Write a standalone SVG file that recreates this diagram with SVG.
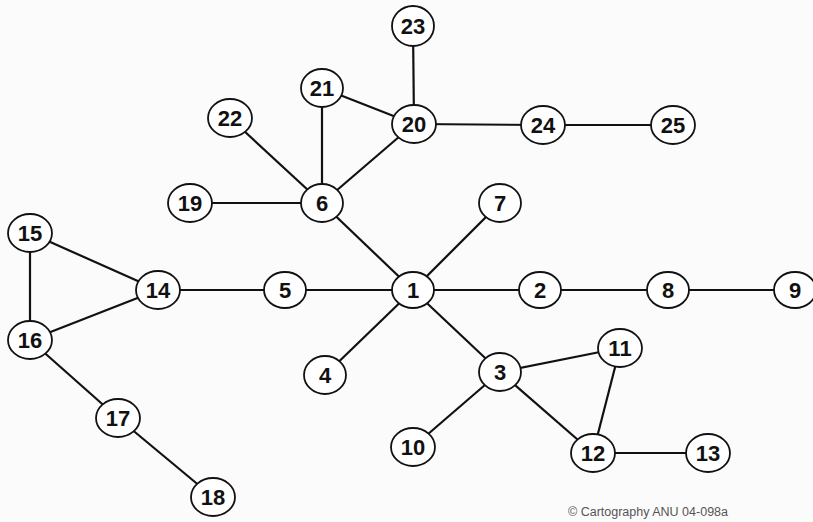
<svg xmlns="http://www.w3.org/2000/svg" width="813" height="522" viewBox="0 0 813 522">
<style>
.e{stroke:#111;stroke-width:2.2;fill:none}
.n ellipse{fill:#fff;stroke:#111;stroke-width:1.8}
.n text{font-family:"Liberation Sans",Arial,sans-serif;font-weight:bold;font-size:22px;fill:#111;text-anchor:middle}
.c{font-family:"Liberation Sans",Arial,sans-serif;font-size:12.5px;fill:#555}
</style>
<rect width="813" height="522" fill="#fbfbfb"/>
<g id="connectors">
<line class="e" x1="413" y1="26" x2="414" y2="124"/>
<line class="e" x1="322" y1="88" x2="414" y2="124"/>
<line class="e" x1="322" y1="88" x2="322" y2="203"/>
<line class="e" x1="414" y1="124" x2="322" y2="203"/>
<line class="e" x1="414" y1="124" x2="543" y2="125"/>
<line class="e" x1="543" y1="125" x2="673" y2="125"/>
<line class="e" x1="230" y1="118" x2="322" y2="203"/>
<line class="e" x1="190" y1="203" x2="322" y2="203"/>
<line class="e" x1="322" y1="203" x2="413" y2="290"/>
<line class="e" x1="500" y1="203" x2="413" y2="290"/>
<line class="e" x1="158" y1="290" x2="413" y2="290"/>
<line class="e" x1="413" y1="290" x2="795" y2="290"/>
<line class="e" x1="413" y1="290" x2="325" y2="375"/>
<line class="e" x1="413" y1="290" x2="500" y2="372"/>
<line class="e" x1="30" y1="233" x2="158" y2="290"/>
<line class="e" x1="30" y1="233" x2="30" y2="340"/>
<line class="e" x1="30" y1="340" x2="158" y2="290"/>
<line class="e" x1="30" y1="340" x2="118" y2="418"/>
<line class="e" x1="118" y1="418" x2="213" y2="497"/>
<line class="e" x1="500" y1="372" x2="620" y2="348"/>
<line class="e" x1="500" y1="372" x2="413" y2="447"/>
<line class="e" x1="500" y1="372" x2="593" y2="453"/>
<line class="e" x1="620" y1="348" x2="593" y2="453"/>
<line class="e" x1="593" y1="453" x2="708" y2="453"/>
</g>
<g id="n23" class="n"><ellipse cx="413" cy="26" rx="21" ry="20"/><text x="413" y="34">23</text></g>
<g id="n21" class="n"><ellipse cx="322" cy="88" rx="21" ry="19"/><text x="322" y="96">21</text></g>
<g id="n20" class="n"><ellipse cx="414" cy="124" rx="22" ry="19"/><text x="414" y="132">20</text></g>
<g id="n24" class="n"><ellipse cx="543" cy="125" rx="22" ry="19"/><text x="543" y="133">24</text></g>
<g id="n25" class="n"><ellipse cx="673" cy="125" rx="22" ry="19"/><text x="673" y="133">25</text></g>
<g id="n22" class="n"><ellipse cx="230" cy="118" rx="22" ry="19"/><text x="230" y="126">22</text></g>
<g id="n19" class="n"><ellipse cx="190" cy="203" rx="22" ry="19"/><text x="190" y="211">19</text></g>
<g id="n6" class="n"><ellipse cx="322" cy="203" rx="21" ry="19"/><text x="322" y="211">6</text></g>
<g id="n7" class="n"><ellipse cx="500" cy="203" rx="21" ry="19"/><text x="500" y="211">7</text></g>
<g id="n15" class="n"><ellipse cx="30" cy="233" rx="22" ry="19"/><text x="30" y="241">15</text></g>
<g id="n14" class="n"><ellipse cx="158" cy="290" rx="22" ry="19"/><text x="158" y="298">14</text></g>
<g id="n5" class="n"><ellipse cx="285" cy="290" rx="21" ry="18"/><text x="285" y="298">5</text></g>
<g id="n1" class="n"><ellipse cx="413" cy="290" rx="21" ry="18"/><text x="413" y="298">1</text></g>
<g id="n2" class="n"><ellipse cx="540" cy="290" rx="21" ry="18"/><text x="540" y="298">2</text></g>
<g id="n8" class="n"><ellipse cx="668" cy="290" rx="21" ry="18"/><text x="668" y="298">8</text></g>
<g id="n9" class="n"><ellipse cx="795" cy="290" rx="21" ry="18"/><text x="795" y="298">9</text></g>
<g id="n16" class="n"><ellipse cx="30" cy="340" rx="22" ry="19"/><text x="30" y="348">16</text></g>
<g id="n11" class="n"><ellipse cx="620" cy="348" rx="22" ry="19"/><text x="620" y="356">11</text></g>
<g id="n4" class="n"><ellipse cx="325" cy="375" rx="21" ry="19"/><text x="325" y="383">4</text></g>
<g id="n3" class="n"><ellipse cx="500" cy="372" rx="21" ry="19"/><text x="500" y="380">3</text></g>
<g id="n17" class="n"><ellipse cx="118" cy="418" rx="22" ry="19"/><text x="118" y="426">17</text></g>
<g id="n10" class="n"><ellipse cx="413" cy="447" rx="22" ry="19"/><text x="413" y="455">10</text></g>
<g id="n12" class="n"><ellipse cx="593" cy="453" rx="22" ry="19"/><text x="593" y="461">12</text></g>
<g id="n13" class="n"><ellipse cx="708" cy="453" rx="22" ry="19"/><text x="708" y="461">13</text></g>
<g id="n18" class="n"><ellipse cx="213" cy="497" rx="22" ry="19"/><text x="213" y="505">18</text></g>
<text class="c" x="568" y="516">© Cartography ANU 04-098a</text>
</svg>
